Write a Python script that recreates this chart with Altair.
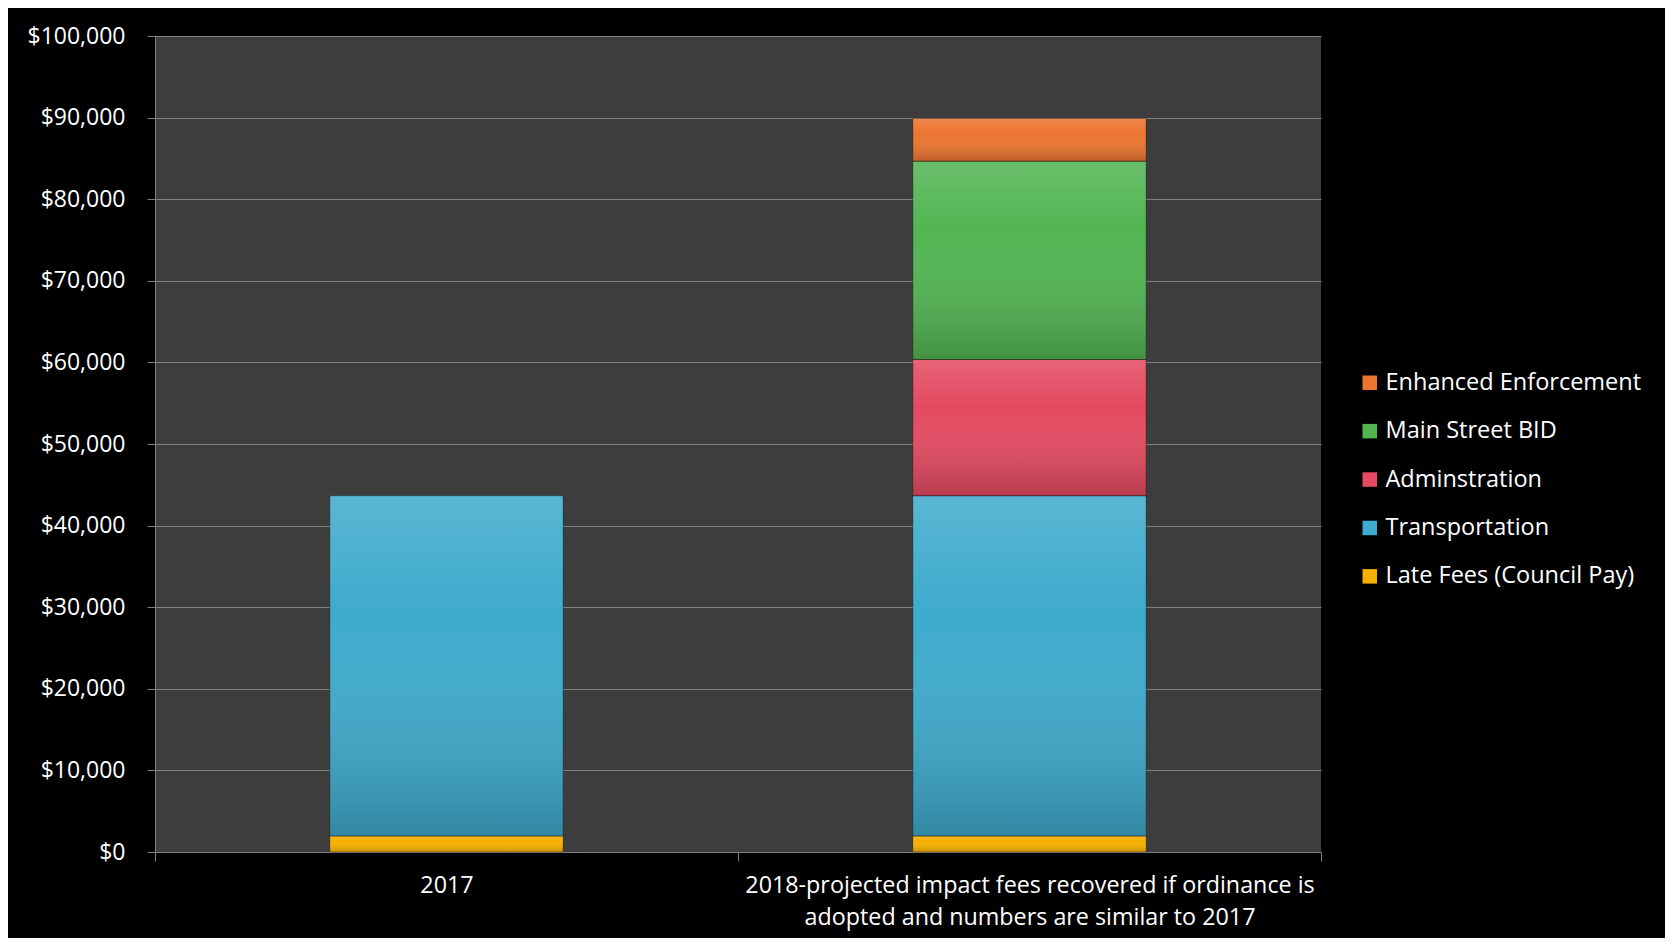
import altair as alt
import pandas as pd

# ---- data ----
categories = [
    "2017",
    "2018-projected impact fees recovered if ordinance is\nadopted and numbers are similar to 2017",
]
series = [
    "Late Fees (Council Pay)",
    "Transportation",
    "Adminstration",
    "Main Street BID",
    "Enhanced Enforcement",
]
values_2017 = [1950, 41700, 0, 0, 0]
values_2018 = [1950, 41700, 16700, 24300, 5250]
series_colors = ["#f7b000", "#3eabcc", "#e44a61", "#52b552", "#ec7530"]
y_ticks = [0, 10000, 20000, 30000, 40000, 50000, 60000, 70000, 80000, 90000, 100000]

rows = []
for cat, vals in zip(categories, [values_2017, values_2018]):
    for i, (s, v) in enumerate(zip(series, vals)):
        if v > 0:
            rows.append({"category": cat, "series": s, "value": v, "order": i})
df = pd.DataFrame(rows)

legend_domain = list(reversed(series))
legend_range = list(reversed(series_colors))

FONT = "Open Sans"
GRID = "#808080"

base = alt.Chart(df).transform_stack(
    stack="value",
    groupby=["category"],
    as_=["y0", "y1"],
    sort=[alt.SortField("order", order="ascending")],
)

x_enc = alt.X(
    "category:N",
    sort=categories,
    scale=alt.Scale(paddingInner=0, paddingOuter=0),
    axis=alt.Axis(
        title=None,
        labelAngle=0,
        tickBand="extent",
        labelExpr="split(datum.label, '\\n')",
        labelColor="white",
        labelFont=FONT,
        labelFontSize=23.3,
        labelLineHeight=32,
        labelPadding=13,
        labelLimit=2000,
        domainColor=GRID,
        tickColor=GRID,
        tickSize=9,
        grid=False,
    ),
)
y_enc = alt.Y(
    "y1:Q",
    scale=alt.Scale(domain=[0, 100000], nice=False),
    axis=alt.Axis(
        title=None,
        values=y_ticks,
        format="$,.0f",
        labelColor="white",
        labelFont=FONT,
        labelFontSize=23,
        labelPadding=22,
        domainColor=GRID,
        tickColor=GRID,
        tickSize=8,
        gridColor=GRID,
        grid=True,
    ),
)

bar_width = alt.RelativeBandSize(0.4)

bars = base.mark_bar(width=bar_width).encode(
    x=x_enc,
    y=y_enc,
    y2="y0:Q",
    color=alt.Color(
        "series:N",
        title=None,
        scale=alt.Scale(domain=legend_domain, range=legend_range),
        legend=alt.Legend(
            orient="none",
            legendX=1203,
            legendY=335,
            symbolType="square",
            symbolSize=210,
            symbolStrokeWidth=0,
            labelColor="white",
            labelFont=FONT,
            labelFontSize=23.5,
            labelOffset=4,
            rowPadding=23.4,
            padding=0,
            labelLimit=500,
        ),
    ),
)

shade = base.mark_bar(
    width=bar_width,
    fill=alt.Gradient(
        gradient="linear",
        stops=[
            alt.GradientStop(color="rgba(255,255,255,0.14)", offset=0),
            alt.GradientStop(color="rgba(255,255,255,0.0)", offset=0.35),
            alt.GradientStop(color="rgba(0,0,0,0.2)", offset=1),
        ],
        x1=0, y1=0, x2=0, y2=1,
    ),
    stroke="rgba(0,0,0,0.3)",
    strokeWidth=1,
).encode(x=x_enc, y=y_enc, y2="y0:Q")

chart = (
    alt.layer(bars, shade)
    .properties(
        width=1166,
        height=816,
        autosize=alt.AutoSizeParams(type="none"),
        padding={"left": 147, "top": 28, "right": 344, "bottom": 86},
        background="black",
    )
    .configure_view(fill="#3d3d3d", strokeWidth=0)
)

chart.save("out.html", embed_options={"renderer": "svg", "actions": False})
